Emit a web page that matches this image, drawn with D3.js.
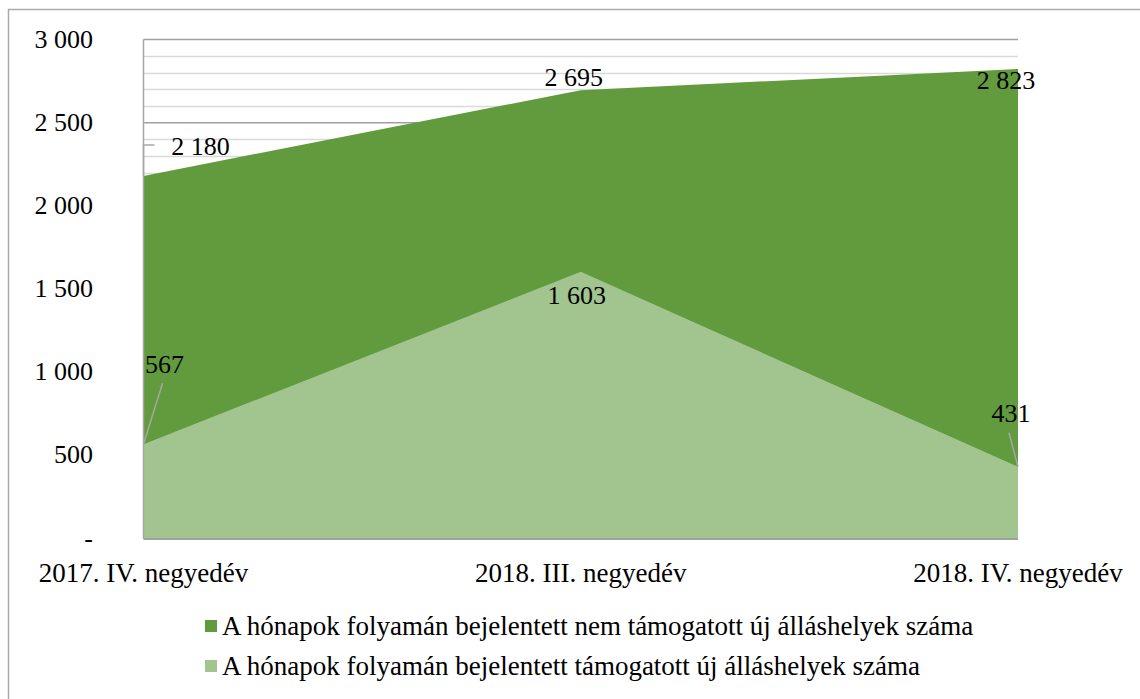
<!DOCTYPE html>
<html lang="hu">
<head>
<meta charset="utf-8">
<title>Álláshelyek</title>
<script src="https://d3js.org/d3.v7.min.js"></script>
<style>
  body { margin: 0; background: #fff; }
</style>
</head>
<body>
<script>
// data
const categories = ["2017. IV. negyedév", "2018. III. negyedév", "2018. IV. negyedév"];
const nemTamogatott = [2180, 2695, 2823];
const tamogatott = [567, 1603, 431];
const seriesNames = [
  "A hónapok folyamán bejelentett nem támogatott új álláshelyek száma",
  "A hónapok folyamán bejelentett támogatott új álláshelyek száma"
];
const yTicks = [0, 500, 1000, 1500, 2000, 2500, 3000];

const W = 1140, H = 699;
const colDark = "#629b3e", colLight = "#a2c48f";
const FONT = "'Liberation Serif', 'Times New Roman', 'DejaVu Serif', serif";

const svg = d3.select("body").append("svg")
  .attr("width", W).attr("height", H)
  .attr("font-family", FONT);

// outer chart border
svg.append("rect")
  .attr("x", 8.5).attr("y", 9.5)
  .attr("width", W).attr("height", H)
  .attr("fill", "none").attr("stroke", "#aaaaaa").attr("stroke-width", 1.5);

const x = d3.scalePoint().domain(categories).range([143.5, 1018]);
const y = d3.scaleLinear().domain([0, 3000]).range([538.5, 39.5]);

// gridlines: minor every 100, major every 500
const minor = d3.range(100, 3001, 100).filter(v => v % 500 !== 0);
svg.append("g").selectAll("line").data(minor).join("line")
  .attr("x1", x.range()[0]).attr("x2", x.range()[1])
  .attr("y1", d => Math.round(y(d)) + 0.5).attr("y2", d => Math.round(y(d)) + 0.5)
  .attr("stroke", "#d9d9d9").attr("stroke-width", 1.5);
svg.append("g").selectAll("line").data(yTicks.filter(v => v > 0)).join("line")
  .attr("x1", x.range()[0]).attr("x2", x.range()[1])
  .attr("y1", d => y(d)).attr("y2", d => y(d))
  .attr("stroke", "#a0a0a0").attr("stroke-width", 1.5);

// areas (overlapping, not stacked)
const area = d3.area()
  .x((d, i) => x(categories[i]))
  .y0(y(0))
  .y1(d => y(d));

svg.append("path").datum(nemTamogatott).attr("d", area).attr("fill", colDark);
svg.append("path").datum(tamogatott).attr("d", area).attr("fill", colLight);

// axis lines
svg.append("line")
  .attr("x1", x.range()[0]).attr("x2", x.range()[0])
  .attr("y1", y(3000)).attr("y2", y(0))
  .attr("stroke", "#a6a6a6").attr("stroke-width", 1.5);
svg.append("line")
  .attr("x1", x.range()[0]).attr("x2", x.range()[1])
  .attr("y1", y(0) + 0.5).attr("y2", y(0) + 0.5)
  .attr("stroke", "#a0a0a0").attr("stroke-width", 2);

const fmt = v => d3.format(",")(v).replace(/,/g, " ");

// y tick labels
svg.append("g").selectAll("text").data(yTicks).join("text")
  .attr("x", 93).attr("y", d => y(d) + 8)
  .attr("text-anchor", "end")
  .attr("font-size", 26)
  .text(d => d === 0 ? "-" : fmt(d));

// x tick labels
svg.append("g").selectAll("text").data(categories).join("text")
  .attr("x", d => x(d)).attr("y", 582)
  .attr("text-anchor", "middle")
  .attr("font-size", 27)
  .text(d => d);

// data labels, offsets from the data point; optional leader line
const labels = [
  { v: nemTamogatott, i: 0, dx: 57, dy: -29, leader: [[0, 0], [0, -31], [11, -31]] },
  { v: nemTamogatott, i: 1, dx: -7, dy: -12 },
  { v: nemTamogatott, i: 2, dx: -12, dy: 12 },
  { v: tamogatott, i: 0, dx: 21, dy: -79, leader: [[0, 0], [19, -61]] },
  { v: tamogatott, i: 1, dx: -4, dy: 24 },
  { v: tamogatott, i: 2, dx: -7, dy: -53, leader: [[0, 0], [-9, -34]] }
];

labels.forEach(l => {
  const px = x(categories[l.i]), py = y(l.v[l.i]);
  if (l.leader) {
    svg.append("path")
      .attr("d", d3.line()(l.leader.map(p => [px + p[0], py + p[1]])))
      .attr("fill", "none").attr("stroke", "#a6a6a6").attr("stroke-width", 1.5);
  }
  svg.append("text")
    .attr("x", px + l.dx).attr("y", py + l.dy + 8)
    .attr("text-anchor", "middle")
    .attr("font-size", 26)
    .text(fmt(l.v[l.i]));
});

// legend
const legend = svg.append("g").selectAll("g").data(seriesNames).join("g")
  .attr("transform", (d, i) => `translate(205, ${626 + i * 40})`);
legend.append("rect")
  .attr("x", 0).attr("y", -6).attr("width", 12).attr("height", 12)
  .attr("fill", (d, i) => i === 0 ? colDark : colLight);
legend.append("text")
  .attr("x", 17).attr("y", 9)
  .attr("font-size", 27)
  .text(d => d);
</script>
</body>
</html>
